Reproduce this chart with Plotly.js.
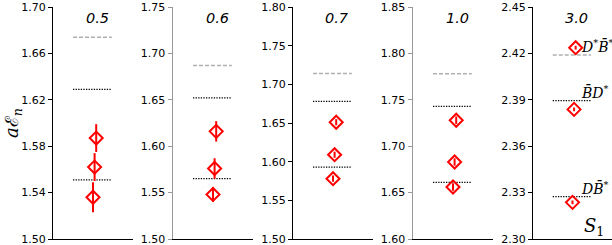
<!DOCTYPE html>
<html>
<head>
<meta charset="utf-8">
<script src="https://cdn.plot.ly/plotly-3.0.1.min.js"></script>
<style>html,body{margin:0;padding:0;background:#fff;} #chart{width:612px;height:245px;}</style>
</head>
<body>
<div id="chart"></div>
<script>
// Panel titles (parameter values)
const panelTitles = ['0.5', '0.6', '0.7', '1.0', '3.0'];
// Threshold levels per panel
const dashedLevel = [1.674, 1.687, 1.714, 1.778, 2.419];
const dottedUpper = [1.629, 1.652, 1.678, 1.743, 2.3895];
const dottedLower = [1.551, 1.565, 1.593, 1.661, 2.3274];
// Energy levels (three states per panel) and errors
const levelTop = [1.587, 1.616, 1.651, 1.728, 2.4237];
const levelMid = [1.562, 1.576, 1.609, 1.683, 2.3838];
const levelBot = [1.536, 1.548, 1.578, 1.656, 2.3237];
const errTop = [0.012, 0.011, 0.004, 0.004, 0.0012];
const errMid = [0.012, 0.011, 0.004, 0.004, 0.0012];
const errBot = [0.013, 0.008, 0.004, 0.004, 0.0012];
// Horizontal placement of the three states within a panel
const stateX = [0.54, 0.52, 0.50];
const lineX = [0.25, 0.735];
// Axis ranges and tick steps
const yMin = [1.50, 1.50, 1.50, 1.60, 2.30];
const yMax = [1.70, 1.75, 1.80, 1.85, 2.45];
const yStep = [0.04, 0.05, 0.05, 0.05, 0.03];
// Threshold labels for last panel
const thresholdLabels = ['<i>D</i><sup>*</sup><i>B̄</i><sup>*</sup>', '<i>B̄D</i><sup>*</sup>', '<i>DB̄</i><sup>*</sup>'];

const W = 612, H = 245;
const mL = 53, mR = 0, mT = 7, mB = 6;
const plotW = W - mL - mR;
const panelW = 80, panelGap = 120;
const spineColor = ['#000', '#999', '#000', '#999', '#000'];
const spineWidth = [1, 1.5, 1, 1.5, 1];

const traces = [];
const layout = {
  width: W, height: H,
  margin: {l: mL, r: mR, t: mT, b: mB, pad: 0},
  paper_bgcolor: '#fff', plot_bgcolor: 'rgba(0,0,0,0)',
  showlegend: false,
  font: {family: 'DejaVu Sans', size: 11, color: '#000'},
  annotations: []
};

for (let i = 0; i < 5; i++) {
  const s = i === 0 ? '' : String(i + 1);
  const xa = 'x' + s, ya = 'y' + s;
  const left = (panelGap * i) / plotW;
  const right = Math.min(1, (panelGap * i + panelW) / plotW);
  layout['xaxis' + s] = {
    domain: [left, right], range: [0, 1], anchor: ya,
    showline: true, linecolor: '#000', linewidth: 1,
    showticklabels: false, ticks: '', showgrid: false, zeroline: false, fixedrange: true
  };
  const tv = [];
  const n = Math.round((yMax[i] - yMin[i]) / yStep[i]);
  for (let k = 0; k <= n; k++) tv.push(+(yMin[i] + k * yStep[i]).toFixed(4));
  layout['yaxis' + s] = {
    domain: [0, 1], range: [yMin[i], yMax[i]], anchor: xa,
    showline: true, linecolor: spineColor[i], linewidth: spineWidth[i],
    ticks: 'outside', ticklen: 4, tickwidth: 1, tickcolor: spineColor[i],
    tickvals: tv, ticktext: tv.map(v => v.toFixed(2)),
    ticklabeloverflow: 'allow',
    tickfont: {family: 'DejaVu Sans', size: 11, color: '#000'},
    showgrid: false, zeroline: false, fixedrange: true
  };
  traces.push({x: lineX, y: [dashedLevel[i], dashedLevel[i]], xaxis: xa, yaxis: ya, mode: 'lines',
    line: {color: '#b0b0b0', width: 1.5, dash: '4px,2px'}, hoverinfo: 'skip'});
  traces.push({x: lineX, y: [dottedUpper[i], dottedUpper[i]], xaxis: xa, yaxis: ya, mode: 'lines',
    line: {color: '#000', width: 1.3, dash: '1.3px,1.3px'}, hoverinfo: 'skip'});
  traces.push({x: lineX, y: [dottedLower[i], dottedLower[i]], xaxis: xa, yaxis: ya, mode: 'lines',
    line: {color: '#000', width: 1.3, dash: '1.3px,1.3px'}, hoverinfo: 'skip'});
  traces.push({
    x: stateX, y: [levelTop[i], levelMid[i], levelBot[i]], xaxis: xa, yaxis: ya, mode: 'markers',
    marker: {symbol: 'diamond-open', size: 10, color: 'red', line: {color: 'red', width: 2}},
    error_y: {type: 'data', array: [errTop[i], errMid[i], errBot[i]], color: 'red', thickness: 2, width: 0},
    hoverinfo: 'skip'
  });
  layout.annotations.push({
    xref: xa + ' domain', yref: 'paper', x: 0.55, y: 1, yshift: -11,
    text: '<i>' + panelTitles[i] + '</i>', showarrow: false,
    font: {family: 'DejaVu Sans', size: 14.5, color: '#000'}, xanchor: 'center', yanchor: 'middle'
  });
}

// threshold labels in last panel
const lastLevels = [dashedLevel[4], dottedUpper[4], dottedLower[4]];
const labelShift = [9, 9, 9];
for (let k = 0; k < 3; k++) {
  layout.annotations.push({
    xref: 'x5', yref: 'y5', x: 0.58, y: lastLevels[k], yshift: labelShift[k],
    text: thresholdLabels[k], showarrow: false, xanchor: 'left', yanchor: 'middle',
    font: {family: 'DejaVu Serif', size: 14, color: '#000'}
  });
}
layout.annotations.push({
  xref: 'x5 domain', yref: 'paper', x: 0.93, y: 0, yshift: 12,
  text: '<i>S</i><sub>1</sub>', showarrow: false, xanchor: 'right', yanchor: 'middle',
  font: {family: 'DejaVu Serif', size: 18, color: '#000'}
});
// y-axis label
layout.annotations.push({
  xref: 'paper', yref: 'paper', x: 0, xshift: -40, y: 0.5,
  text: '<i>a</i>ℰ<sub><i>n</i></sub>', showarrow: false, textangle: -90,
  xanchor: 'center', yanchor: 'middle',
  font: {family: 'DejaVu Serif', size: 18, color: '#000'}
});

Plotly.newPlot('chart', traces, layout, {displayModeBar: false, staticPlot: true});
</script>
</body>
</html>
